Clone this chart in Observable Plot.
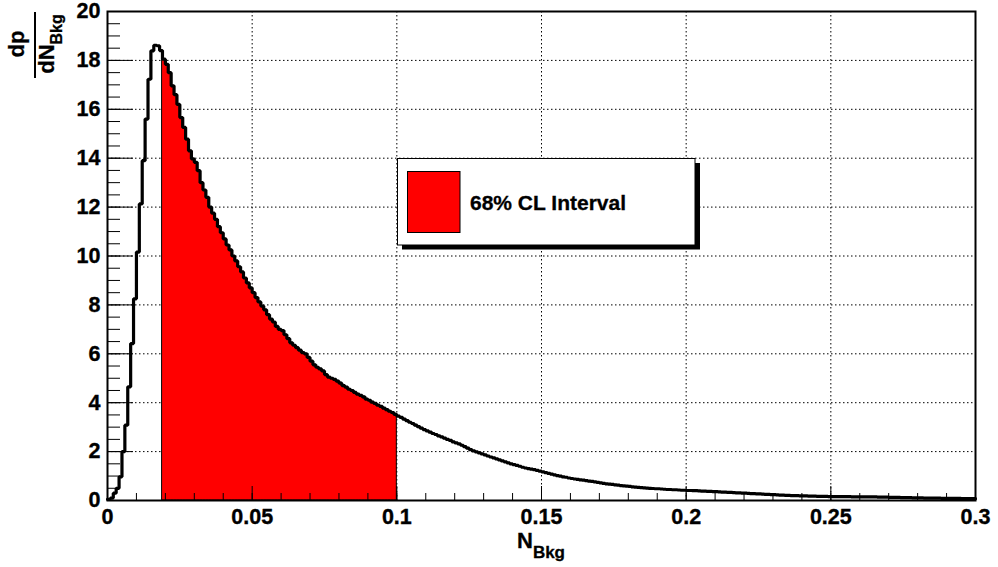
<!DOCTYPE html>
<html>
<head>
<meta charset="utf-8">
<script src="https://cdn.jsdelivr.net/npm/d3@7"></script>
<script src="https://cdn.jsdelivr.net/npm/@observablehq/plot@0.6"></script>
<style>
  html, body { margin: 0; padding: 0; background: #ffffff; }
  svg { display: block; }
</style>
</head>
<body>
<div id="chart"></div>
<script>
// ---- data ----
const binWidth = 0.001; // histogram bin width in N_Bkg
const density = [
  0.05, 0.1, 0.3, 0.5, 0.97, 2.0, 3.08, 4.65, 6.42, 8.25,
  10.16, 12.13, 13.9, 15.6, 17.23, 18.39, 18.62, 18.6, 18.4, 18.05,
  17.84, 17.5, 16.96, 16.6, 16.2, 15.66, 15.26, 14.78, 14.3, 13.97,
  13.83, 13.49, 13.0, 12.7, 12.4, 12.0, 11.75, 11.5, 11.2, 10.95,
  10.7, 10.45, 10.25, 10.0, 9.8, 9.56, 9.35, 9.1, 8.9, 8.7,
  8.5, 8.3, 8.12, 7.95, 7.8, 7.6, 7.42, 7.3, 7.12, 7.0,
  6.95, 6.78, 6.62, 6.45, 6.35, 6.25, 6.15, 6.05, 6.0, 5.85,
  5.7, 5.55, 5.45, 5.38, 5.3, 5.15, 5.05, 5.0, 4.95, 4.88,
  4.8, 4.7, 4.64, 4.55, 4.5, 4.42, 4.35, 4.3, 4.24, 4.15,
  4.1, 4.02, 3.97, 3.9, 3.85, 3.78, 3.72, 3.65, 3.6, 3.52,
  3.45, 3.4, 3.33, 3.27, 3.2, 3.15, 3.08, 3.02, 2.96, 2.9,
  2.85, 2.8, 2.74, 2.7, 2.64, 2.6, 2.55, 2.5, 2.46, 2.4,
  2.36, 2.32, 2.26, 2.2, 2.14, 2.08, 2.03, 1.99, 1.95, 1.91,
  1.87, 1.82, 1.78, 1.74, 1.7, 1.66, 1.62, 1.58, 1.54, 1.5,
  1.47, 1.44, 1.4, 1.36, 1.33, 1.3, 1.28, 1.26, 1.23, 1.2,
  1.17, 1.14, 1.11, 1.08, 1.05, 1.02, 1.0, 0.97, 0.95, 0.92,
  0.9, 0.88, 0.86, 0.84, 0.83, 0.81, 0.79, 0.78, 0.76, 0.74,
  0.72, 0.7, 0.68, 0.67, 0.66, 0.64, 0.63, 0.61, 0.6, 0.59,
  0.58, 0.56, 0.55, 0.54, 0.53, 0.52, 0.51, 0.5, 0.49, 0.48,
  0.48, 0.47, 0.46, 0.45, 0.45, 0.44, 0.44, 0.43, 0.42, 0.42,
  0.41, 0.41, 0.4, 0.4, 0.39, 0.38, 0.38, 0.37, 0.37, 0.36,
  0.36, 0.35, 0.34, 0.34, 0.33, 0.33, 0.32, 0.31, 0.31, 0.3,
  0.3, 0.29, 0.28, 0.28, 0.27, 0.27, 0.26, 0.25, 0.25, 0.24,
  0.24, 0.23, 0.22, 0.22, 0.21, 0.21, 0.2, 0.2, 0.2, 0.19,
  0.19, 0.19, 0.18, 0.18, 0.18, 0.17, 0.17, 0.17, 0.17, 0.16,
  0.16, 0.16, 0.16, 0.16, 0.155, 0.155, 0.155, 0.15, 0.15, 0.15,
  0.15, 0.15, 0.15, 0.15, 0.145, 0.145, 0.14, 0.14, 0.14, 0.135,
  0.13, 0.13, 0.13, 0.125, 0.12, 0.12, 0.12, 0.115, 0.11, 0.11,
  0.11, 0.105, 0.1, 0.1, 0.1, 0.1, 0.095, 0.095, 0.09, 0.09,
  0.09, 0.09, 0.085, 0.085, 0.085, 0.08, 0.08, 0.08, 0.08, 0.075
];
const intervalLow = 0.019;   // 68% CL interval bounds
const intervalHigh = 0.1;
const xDomain = [0, 0.3];
const yDomain = [0, 20];
const xTickValues = [0, 0.05, 0.1, 0.15, 0.2, 0.25, 0.3];
const xTickLabels = ["0", "0.05", "0.1", "0.15", "0.2", "0.25", "0.3"];
const xGridValues = [0.05, 0.1, 0.15, 0.2, 0.25];
const yTickValues = [0, 2, 4, 6, 8, 10, 12, 14, 16, 18, 20];
const yTickLabels = ["0", "2", "4", "6", "8", "10", "12", "14", "16", "18", "20"];
const yGridValues = [2, 4, 6, 8, 10, 12, 14, 16, 18];
const xMinorStep = 0.01;
const yMinorStep = 0.5;
const legendLabel = "68% CL Interval";
const xTitleMain = "N", xTitleSub = "Bkg";
const yTitleNum = "dp", yTitleDen = "dN", yTitleSub = "Bkg";

// ---- derived tables ----
const eps = 1e-9;
const outline = density.map((v, i) => ({x: i * binWidth, y: v}));
outline.push({x: density.length * binWidth, y: density[density.length - 1]});
const band = density
  .map((v, i) => ({x: i * binWidth, y: v}))
  .filter(d => d.x >= intervalLow - eps && d.x < intervalHigh - eps);
band.push({x: intervalHigh, y: band[band.length - 1].y});
const xMinor = d3.range(0, Math.round((xDomain[1] - xDomain[0]) / xMinorStep) + 1).map(k => k * xMinorStep);
const yMinor = d3.range(0, Math.round((yDomain[1] - yDomain[0]) / yMinorStep) + 1).map(k => k * yMinorStep);

const FONT = "'Liberation Sans', Arial, Helvetica, sans-serif";
const dotted = "1.5,2.5";

const plot = Plot.plot({
  width: 998,
  height: 567,
  marginLeft: 107,
  marginRight: 23,
  marginTop: 11,
  marginBottom: 67,
  x: {domain: xDomain, axis: null},
  y: {domain: yDomain, axis: null},
  style: {fontFamily: FONT, background: "white", overflow: "visible", color: "black"},
  marks: [
    Plot.ruleX(xGridValues, {stroke: "black", strokeWidth: 1, strokeDasharray: dotted}),
    Plot.ruleY(yGridValues, {stroke: "black", strokeWidth: 1, strokeDasharray: dotted}),
    Plot.areaY(band, {x: "x", y: "y", curve: "step-after", fill: "#ff0000", stroke: "black", strokeWidth: 1}),
    Plot.line(outline, {x: "x", y: "y", curve: "step-after", stroke: "black", strokeWidth: 3.2, strokeLinejoin: "miter"}),
    Plot.ruleX(xMinor, {y1: 0, y2: 0, insetTop: -7, stroke: "black", strokeWidth: 1}),
    Plot.ruleX(xTickValues, {y1: 0, y2: 0, insetTop: -14, stroke: "black", strokeWidth: 1}),
    Plot.ruleY(yMinor, {x1: 0, x2: 0, insetRight: -13, stroke: "black", strokeWidth: 1}),
    Plot.ruleY(yTickValues, {x1: 0, x2: 0, insetRight: -26, stroke: "black", strokeWidth: 1}),
    Plot.frame({stroke: "black", strokeWidth: 2}),
    Plot.text(xTickValues, {x: d => d, y: 0, text: (d, i) => xTickLabels[i], dy: 17, fontSize: 21.5, fontWeight: "bold", fill: "black"}),
    Plot.text(yTickValues, {x: 0, y: d => d, text: (d, i) => yTickLabels[i], dx: -7, textAnchor: "end", fontSize: 21.5, fontWeight: "bold", fill: "black"})
  ]
});

const svg = d3.select(plot);
// make sure tick label text is heavy like ROOT's Helvetica-Bold
svg.selectAll("text")
  .style("font-weight", "bold")
  .style("font-family", FONT)
  .attr("stroke", "black")
  .attr("stroke-width", 0.35);

// Legend (ROOT TLegend with shadow)
const leg = svg.append("g");
leg.append("rect").attr("x", 402).attr("y", 163).attr("width", 298).attr("height", 86.5).attr("fill", "black");
leg.append("rect").attr("x", 397.5).attr("y", 158.5).attr("width", 297.5).attr("height", 86.5)
  .attr("fill", "white").attr("stroke", "black").attr("stroke-width", 1);
leg.append("rect").attr("x", 407.5).attr("y", 171.5).attr("width", 52.5).attr("height", 61)
  .attr("fill", "#ff0000").attr("stroke", "black").attr("stroke-width", 1);
leg.append("text").attr("x", 470).attr("y", 210).attr("text-anchor", "start")
  .attr("font-family", FONT).attr("font-size", 21)
  .style("font-weight", "bold").attr("fill", "black").attr("stroke", "black").attr("stroke-width", 0.3)
  .text(legendLabel);

// X title
const xt = svg.append("text").attr("x", 541).attr("y", 548).attr("text-anchor", "middle")
  .attr("font-family", FONT).style("font-weight", "bold").attr("font-size", 22)
  .attr("fill", "black").attr("stroke", "black").attr("stroke-width", 0.3);
xt.append("tspan").text(xTitleMain);
xt.append("tspan").attr("dy", 10).attr("font-size", 17).text(xTitleSub);

// Y title: fraction dp / dN_Bkg, rotated
const yt = svg.append("g").attr("transform", "translate(0,44) rotate(-90)")
  .attr("font-family", FONT).style("font-weight", "bold").attr("fill", "black")
  .attr("stroke", "black").attr("stroke-width", 0.3);
yt.append("text").attr("x", 0).attr("y", 24).attr("text-anchor", "middle").attr("font-size", 22).text(yTitleNum);
yt.append("line").attr("x1", -34).attr("x2", 32).attr("y1", 35).attr("y2", 35)
  .attr("stroke", "black").attr("stroke-width", 2);
const den = yt.append("text").attr("x", 0).attr("y", 54).attr("text-anchor", "middle").attr("font-size", 22);
den.append("tspan").text(yTitleDen);
den.append("tspan").attr("dy", 8).attr("font-size", 16).text(yTitleSub);

document.getElementById("chart").appendChild(plot);
</script>
</body>
</html>
